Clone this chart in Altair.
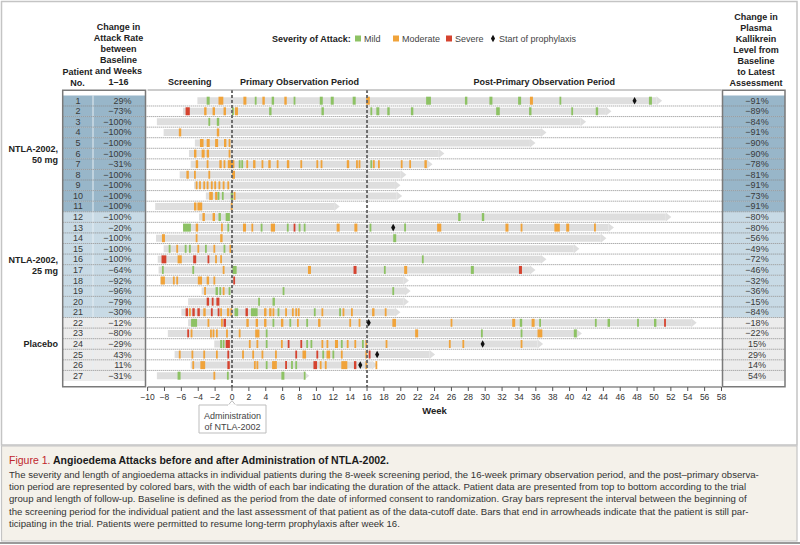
import altair as alt
import pandas as pd

FONT = "Liberation Sans, Arial, sans-serif"

# ---------------- data ----------------
patient_no = list(range(1, 28))
group_names = ["NTLA-2002, 50 mg", "NTLA-2002, 25 mg", "Placebo"]
group_of_patient = ["NTLA-2002, 50 mg"] * 11 + ["NTLA-2002, 25 mg"] * 10 + ["Placebo"] * 6
attack_rate_change = ["29%", "−73%", "−100%", "−100%", "−100%", "−100%", "−31%", "−100%", "−100%",
                      "−100%", "−100%", "−100%", "−20%", "−100%", "−100%", "−100%", "−64%", "−92%",
                      "−96%", "−79%", "−30%", "−12%", "−80%", "−29%", "43%", "11%", "−31%"]
kallikrein_change = ["−91%", "−89%", "−84%", "−91%", "−90%", "−90%", "−78%", "−81%", "−91%", "−73%",
                     "−91%", "−80%", "−80%", "−56%", "−49%", "−72%", "−46%", "−32%", "−36%", "−15%",
                     "−84%", "−18%", "−22%", "15%", "29%", "14%", "54%"]
followup_start = [-4.1, -5.8, -8.9, -8.1, -4.4, -5.1, -4.9, -6.2, -4.5, -3.1, -9.1, -3.9, -5.8, -9.0,
                  -8.1, -8.8, -8.7, -8.5, -3.6, -5.2, -6.0, -5.2, -7.6, -2.1, -6.8, -4.9, -8.9]
followup_end = [50.3, 44.3, 41.3, 36.6, 35.3, 24.5, 23.1, 20.0, 19.3, 19.5, 12.1, 51.4, 44.6, 43.7,
                40.5, 36.6, 35.3, 20.3, 20.5, 20.3, 19.3, 54.4, 40.8, 36.2, 23.4, 16.6, 8.5]
prophylaxis_patient = [1, 13, 22, 24, 25, 26]
prophylaxis_week = [47.7, 19.1, 16.2, 29.7, 17.2, 15.2]

# attacks per patient: (start week, severity, duration in days)
a01 = [(-3.0, "Mild", 2.5), (-1.6, "Moderate", 4), (1.35, "Moderate", 2.5), (2.7, "Mild", 1.5), (3.6, "Moderate", 2),
       (4.7, "Mild", 2), (6.2, "Moderate", 2), (7.3, "Mild", 1.5), (10.4, "Mild", 2.5), (11.7, "Mild", 2.5),
       (14.3, "Mild", 2.5), (15.9, "Moderate", 3), (23.0, "Mild", 4), (27.6, "Mild", 2), (30.5, "Mild", 2.5),
       (33.9, "Mild", 2.5), (35.3, "Moderate", 2.5), (38.8, "Mild", 1.5), (49.4, "Mild", 2.5)]
a02 = [(-5.5, "Severe", 3.5), (-3.3, "Moderate", 2), (-2.3, "Moderate", 2), (-1.0, "Moderate", 2), (0.0, "Mild", 1.5),
       (0.35, "Moderate", 2.5), (4.4, "Mild", 2), (10.6, "Mild", 2), (16.4, "Mild", 1.5), (17.1, "Mild", 2.5),
       (18.4, "Mild", 2), (21.2, "Mild", 2), (31.3, "Mild", 3), (35.2, "Mild", 2), (40.2, "Mild", 1.5), (43.1, "Mild", 2)]
a03 = [(-2.8, "Mild", 1.5), (-1.8, "Mild", 2)]
a04 = [(-6.3, "Moderate", 2), (-1.8, "Moderate", 2)]
a05 = [(-3.8, "Moderate", 3), (-3.0, "Moderate", 2.5), (-2.0, "Moderate", 2.5), (-0.95, "Moderate", 2), (-0.4, "Moderate", 1.5)]
a06 = [(-4.5, "Moderate", 2), (-3.6, "Moderate", 2.5), (-3.0, "Moderate", 2), (-0.4, "Moderate", 1.5)]
a07 = [(-4.3, "Moderate", 2), (-3.0, "Moderate", 1.5), (-1.5, "Moderate", 2), (-1.0, "Moderate", 1.5), (-0.5, "Moderate", 3.5),
       (0.0, "Moderate", 2), (0.8, "Mild", 1.5), (1.1, "Mild", 1.5), (1.7, "Moderate", 1.5), (2.5, "Moderate", 2),
       (3.5, "Moderate", 1.5), (4.3, "Moderate", 2), (5.3, "Moderate", 1.5), (6.5, "Moderate", 2), (8.1, "Moderate", 1.5),
       (10.0, "Moderate", 1.5), (10.5, "Moderate", 1.5), (13.6, "Moderate", 2), (14.7, "Moderate", 1.5), (15.0, "Moderate", 1.5),
       (16.4, "Mild", 1.5), (16.7, "Moderate", 1.5), (17.3, "Moderate", 1.5), (20.0, "Moderate", 1.5), (21.0, "Moderate", 1.5),
       (22.8, "Moderate", 2)]
a08 = [(-5.4, "Moderate", 2), (-4.5, "Moderate", 1.5), (-2.8, "Moderate", 1.5), (0.0, "Moderate", 2.5)]
a09 = [(-4.3, "Moderate", 1.5), (-3.9, "Moderate", 1.5), (-3.4, "Moderate", 1.5), (-3.0, "Moderate", 1.5), (-2.5, "Moderate", 1.5),
       (-2.1, "Moderate", 1.5), (-1.6, "Moderate", 1.5), (-1.1, "Moderate", 1.5), (-0.55, "Moderate", 1.5)]
a10 = [(-2.7, "Moderate", 3), (-2.0, "Moderate", 2), (-1.7, "Mild", 1.5), (-1.2, "Mild", 1.5), (-0.15, "Mild", 2), (0.2, "Moderate", 1.5)]
a11 = [(-4.5, "Moderate", 2), (-4.1, "Moderate", 4), (-0.15, "Moderate", 1.5)]
a12 = [(-3.5, "Moderate", 2), (-2.3, "Moderate", 2), (-1.6, "Mild", 2), (-0.75, "Mild", 3.5), (26.8, "Mild", 2), (29.6, "Mild", 2)]
a13 = [(-5.8, "Mild", 6.5), (-4.3, "Moderate", 2), (-1.3, "Moderate", 1.5), (-0.55, "Mild", 1.5), (1.3, "Moderate", 2.5),
       (2.3, "Moderate", 1.5), (3.4, "Mild", 1.5), (4.6, "Moderate", 3.5), (6.5, "Mild", 1.5), (7.3, "Severe", 1.5),
       (7.9, "Mild", 1.5), (8.5, "Mild", 1.5), (12.4, "Moderate", 2.5), (14.5, "Moderate", 2.5), (16.3, "Mild", 1.5),
       (20.4, "Mild", 1.5), (24.3, "Moderate", 3.5), (32.4, "Moderate", 2.5), (34.2, "Moderate", 1.5), (38.2, "Moderate", 4.5),
       (39.6, "Moderate", 2.5), (42.9, "Moderate", 1.5)]
a14 = [(-8.3, "Moderate", 2.5), (-4.3, "Moderate", 1.5), (-1.4, "Moderate", 2), (19.1, "Mild", 2.5)]
a15 = [(-7.5, "Mild", 1.5), (-6.6, "Moderate", 1.5), (-5.6, "Mild", 1.5), (-5.1, "Mild", 1.5), (-4.1, "Moderate", 1.5),
       (-3.2, "Mild", 1.5), (-2.2, "Moderate", 1.5), (-1.0, "Mild", 1.5), (-0.3, "Moderate", 1.5)]
a16 = [(-8.35, "Severe", 4), (-6.45, "Moderate", 3.5), (-4.6, "Severe", 2.5), (-2.9, "Severe", 1.5), (-2.0, "Moderate", 1.5),
       (-1.4, "Moderate", 1.5), (22.5, "Mild", 1.5)]
a17 = [(-8.3, "Mild", 1.5), (-4.7, "Mild", 1.5), (-1.1, "Moderate", 1.5), (0.05, "Mild", 3.5), (9.0, "Moderate", 2.5),
       (14.4, "Severe", 2.5), (18.0, "Mild", 1.5), (20.4, "Moderate", 2.5), (28.3, "Mild", 2.5), (34.0, "Severe", 2.5)]
a18 = [(-8.45, "Moderate", 3.5), (-7.0, "Moderate", 1.5), (-6.6, "Moderate", 1.5), (-4.05, "Moderate", 3.5), (-3.0, "Moderate", 2),
       (-2.2, "Moderate", 1.5), (0.15, "Severe", 1.5)]
a19 = [(-3.3, "Moderate", 1.5), (-1.95, "Mild", 2), (-1.5, "Mild", 1.5), (-1.1, "Moderate", 1.5), (-0.4, "Mild", 1.5),
       (6.0, "Mild", 1.5), (19.0, "Mild", 1.5)]
a20 = [(-3.0, "Severe", 2), (-2.4, "Severe", 1.5), (-1.85, "Severe", 2.5), (3.1, "Mild", 1.5), (4.8, "Mild", 2)]
a21 = [(-5.5, "Severe", 2), (-5.1, "Moderate", 1.5), (-4.7, "Severe", 2), (-4.1, "Severe", 2), (-3.4, "Moderate", 2),
       (-2.5, "Severe", 1.5), (-1.7, "Severe", 1.5), (-1.4, "Moderate", 1.5), (-0.6, "Moderate", 2), (-0.2, "Moderate", 1.5),
       (0.3, "Mild", 3), (1.6, "Severe", 2), (2.25, "Mild", 5.5), (3.8, "Moderate", 2), (4.4, "Moderate", 2),
       (4.8, "Moderate", 1.5), (5.4, "Mild", 1.5), (6.3, "Moderate", 1.5), (7.1, "Moderate", 1.5), (7.5, "Moderate", 1.5),
       (7.8, "Moderate", 1.5), (9.7, "Mild", 1.5), (10.6, "Moderate", 1.5), (12.7, "Mild", 1.5), (13.1, "Moderate", 1.5),
       (14.1, "Moderate", 1.5), (16.6, "Moderate", 2), (18.1, "Moderate", 1.5)]
a22 = [(-4.85, "Mild", 5), (-2.9, "Moderate", 1.5), (-1.3, "Moderate", 1.5), (-1.0, "Severe", 2), (1.7, "Moderate", 2),
       (2.8, "Moderate", 2), (3.8, "Moderate", 2), (4.8, "Mild", 1.5), (5.8, "Moderate", 2), (6.8, "Mild", 1.5),
       (7.7, "Moderate", 1.5), (8.8, "Mild", 1.5), (10.2, "Moderate", 2), (13.9, "Moderate", 1.5), (15.0, "Moderate", 1.5),
       (19.0, "Moderate", 3), (25.9, "Moderate", 1.5), (33.2, "Moderate", 2.5), (34.1, "Mild", 2), (35.5, "Moderate", 2.5),
       (36.4, "Mild", 1.5), (43.0, "Mild", 1.5), (44.5, "Mild", 2), (48.0, "Mild", 1.5), (50.0, "Mild", 2), (51.2, "Severe", 1.5)]
a23 = [(-5.3, "Severe", 1.5), (-4.9, "Moderate", 1.5), (-2.6, "Moderate", 1.5), (-2.3, "Moderate", 1.5), (-1.9, "Moderate", 1.5),
       (-0.7, "Moderate", 1.5), (0.8, "Moderate", 1.5), (2.75, "Moderate", 3.5), (4.0, "Mild", 1.5), (21.7, "Moderate", 2.5),
       (29.5, "Mild", 1.5), (34.2, "Mild", 1.5), (36.2, "Moderate", 4), (40.5, "Mild", 2.5)]
a24 = [(-1.4, "Mild", 1.5), (-1.1, "Mild", 1.5), (-0.75, "Severe", 3.5), (2.0, "Moderate", 1.5), (2.9, "Moderate", 1.5),
       (4.0, "Mild", 1.5), (5.8, "Moderate", 1.5), (6.6, "Severe", 1.5), (8.1, "Severe", 1.5), (8.8, "Mild", 1.5),
       (9.3, "Mild", 1.5), (10.6, "Moderate", 1.5), (11.2, "Moderate", 1.5), (12.2, "Moderate", 2.5), (12.9, "Mild", 1.5),
       (13.6, "Moderate", 1.5), (14.5, "Moderate", 1.5), (15.4, "Mild", 1.5), (15.8, "Moderate", 1.5), (18.2, "Moderate", 1.5),
       (25.7, "Moderate", 1.5), (27.3, "Moderate", 1.5), (34.2, "Moderate", 1.5)]
a25 = [(-6.3, "Moderate", 1.5), (-4.8, "Moderate", 1.5), (-3.4, "Moderate", 1.5), (-1.9, "Moderate", 1.5), (-0.55, "Severe", 1.5),
       (1.2, "Moderate", 1.5), (2.4, "Moderate", 1.5), (3.5, "Moderate", 1.5), (5.1, "Moderate", 1.5), (7.5, "Severe", 1.5),
       (8.35, "Moderate", 3), (10.0, "Severe", 1.5), (10.7, "Mild", 1.5), (11.2, "Moderate", 3), (11.9, "Mild", 1.5),
       (12.9, "Moderate", 1.5), (15.8, "Moderate", 1.5), (16.2, "Severe", 1.5)]
a26 = [(-4.7, "Moderate", 1.5), (-3.75, "Moderate", 4), (-0.55, "Severe", 2), (2.6, "Moderate", 1.5), (2.9, "Moderate", 1.5),
       (4.0, "Mild", 1.5), (4.75, "Moderate", 2.5), (5.1, "Moderate", 1.5), (6.3, "Severe", 1.5), (7.0, "Mild", 1.5),
       (7.5, "Mild", 1.5), (9.65, "Severe", 3), (10.4, "Moderate", 1.5), (11.0, "Moderate", 1.5), (12.95, "Moderate", 5),
       (14.45, "Severe", 2), (15.8, "Moderate", 1.5), (17.0, "Moderate", 1.5)]
a27 = [(-6.45, "Mild", 2.5), (-2.2, "Moderate", 1.5), (-0.6, "Mild", 1.5), (5.85, "Mild", 2.5), (8.5, "Mild", 1.5)]
attack_lists = [a01, a02, a03, a04, a05, a06, a07, a08, a09, a10, a11, a12, a13, a14, a15, a16, a17, a18,
                a19, a20, a21, a22, a23, a24, a25, a26, a27]

severity_names = ["Mild", "Moderate", "Severe"]
severity_colors = ["#8dc264", "#f0a33a", "#d5432f"]
group_fills = ["#98b6c9", "#c8dae5", "#ececec"]
week_ticks = list(range(-10, 59, 2))
period_names = ["Screening", "Primary Observation Period", "Post-Primary Observation Period"]
period_start = [-10, 0, 16]
period_end = [0, 16, 58]

caption_lines = [
    "The severity and length of angioedema attacks in individual patients during the 8-week screening period, the 16-week primary observation period, and the post\u2013primary observa-",
    "tion period are represented by colored bars, with the width of each bar indicating the duration of the attack. Patient data are presented from top to bottom according to the trial",
    "group and length of follow-up. Baseline is defined as the period from the date of informed consent to randomization. Gray bars represent the interval between the beginning of",
    "the screening period for the individual patient and the last assessment of that patient as of the data-cutoff date. Bars that end in arrowheads indicate that the patient is still par-",
    "ticipating in the trial. Patients were permitted to resume long-term prophylaxis after week 16.",
]

# ---------------- tables ----------------
pdf = pd.DataFrame({"patient": patient_no, "group": group_of_patient, "rate": attack_rate_change,
                    "kal": kallikrein_change, "start": followup_start, "end": followup_end})
pdf["lo"] = pdf["patient"] - 0.5
pdf["hi"] = pdf["patient"] + 0.5

rows = []
for p, lst in zip(patient_no, attack_lists):
    for wk, sev, days in lst:
        rows.append({"patient": p, "s": wk, "e": wk + days / 7.0, "severity": sev})
adf = pd.DataFrame(rows)
proph = pd.DataFrame({"patient": prophylaxis_patient, "week": prophylaxis_week})
gdf = pd.DataFrame({"group": group_names})
gdf["center"] = [pdf[pdf.group == g].patient.mean() for g in group_names]
gdf["line1"] = ["NTLA-2002,", "NTLA-2002,", "Placebo"]
gdf["line2"] = ["50 mg", "25 mg", ""]
tdf = pd.DataFrame({"tick": week_ticks})
tdf["label"] = [("\u2212" + str(-t)) if t < 0 else str(t) for t in week_ticks]
vdf = pd.DataFrame({"w": [0, 16]})
perdf = pd.DataFrame({"name": period_names, "a": period_start, "b": period_end})
perdf["mid"] = (perdf["a"] + perdf["b"]) / 2.0
spandf = pd.DataFrame({"a": [week_ticks[0]], "b": [week_ticks[-1]], "admin": [0], "weekpos": [24]})
one = pd.DataFrame({"k": [0]})

X = alt.Scale(domain=[-10, 58], range=[147.6, 721.5], nice=False, zero=False)
Y = alt.Scale(domain=[1, 27], range=[95.7, 380.7], nice=False, zero=False)
SEV = alt.Scale(domain=severity_names, range=severity_colors)
GF = alt.Scale(domain=group_names, range=group_fills)

RIGHT_X1, RIGHT_X2, RIGHT_TX = 723, 785, 757


def XE(f):
    return alt.X(f, scale=X, axis=None)


def YE(f):
    return alt.Y(f, scale=Y, axis=None)


def txt(t, x, y, size=9.0, weight="normal", color="#222222", align="center", baseline="middle"):
    return alt.Chart(one).mark_text(text=t, font=FONT, fontSize=size, fontWeight=weight, color=color,
                                    align=align, baseline=baseline).encode(x=alt.value(x), y=alt.value(y))


def box(x1, x2, y1, y2, fill="transparent", stroke="#bdbdbd", sw=1.0):
    return alt.Chart(one).mark_rect(fill=fill, stroke=stroke, strokeWidth=sw).encode(
        x=alt.value(x1), x2=alt.value(x2), y=alt.value(y1), y2=alt.value(y2))


layers = []
# frame + caption background
layers.append(box(1.5, 797, 1.5, 445, fill="white", stroke="#c4c4c4", sw=1.5))
layers.append(box(1.5, 797, 446, 541, fill="#f4f1ea", stroke="#c4c4c4", sw=1.2))
layers.append(alt.Chart(one).mark_rule(color="#9a9a9a", strokeWidth=2).encode(
    x=alt.value(0), x2=alt.value(800), y=alt.value(543)))

# table cells
for x1, x2 in [(62.7, 145), (RIGHT_X1, RIGHT_X2)]:
    layers.append(alt.Chart(pdf).mark_rect().encode(
        x=alt.value(x1), x2=alt.value(x2),
        y=YE("lo:Q"), y2="hi:Q",
        fill=alt.Fill("group:N", scale=GF, legend=None)))
# column divider in left table
layers.append(alt.Chart(pdf).mark_rule(color="#e6eef3", strokeWidth=1).encode(
    x=alt.value(93), y=YE("lo:Q"), y2="hi:Q"))
# dotted row separators
layers.append(alt.Chart(pdf[pdf.patient < 27]).mark_rule(color="#8a8a8a", strokeWidth=1, strokeDash=[1, 1]).encode(
    y=YE("hi:Q"), x=alt.value(62.7), x2=alt.value(RIGHT_X2)))

# follow-up gray bars + arrowheads
layers.append(alt.Chart(pdf).mark_bar(color="#dedede", size=7, orient="horizontal").encode(
    x=XE("start:Q"), x2="end:Q", y=YE("patient:Q")))
layers.append(alt.Chart(pdf).mark_point(shape="M0,-1L1.25,0L0,1Z", size=80, filled=True, color="#dedede", opacity=1).encode(
    x=XE("end:Q"), y=YE("patient:Q")))
# attacks
layers.append(alt.Chart(adf).mark_bar(size=8, orient="horizontal").encode(
    x=XE("s:Q"), x2="e:Q", y=YE("patient:Q"),
    color=alt.Color("severity:N", scale=SEV, legend=None)))
# dashed week 0 / 16 lines
layers.append(alt.Chart(vdf).mark_rule(color="#6e6e6e", strokeWidth=2, strokeDash=[3, 2]).encode(
    x=XE("w:Q"), y=alt.value(90), y2=alt.value(387)))
# prophylaxis markers
DIAMOND = "M0,-1.2L0.65,0L0,1.2L-0.65,0Z"
layers.append(alt.Chart(proph).mark_point(shape=DIAMOND, size=40, filled=True, color="#111111", opacity=1).encode(
    x=XE("week:Q"), y=YE("patient:Q")))

# borders
layers.append(alt.Chart(spandf).mark_rule(color="#9a9a9a", strokeWidth=1).encode(
    x=XE("a:Q"), x2="b:Q", y=alt.value(90)))
layers.append(box(62.7, 145.5, 90.2, 386.7, stroke="#7a7a7a", sw=1.5))
layers.append(box(722.5, RIGHT_X2, 90.2, 386.7, stroke="#7a7a7a", sw=1.5))

# x axis
layers.append(alt.Chart(spandf).mark_rule(color="#555555", strokeWidth=1.2).encode(
    x=XE("a:Q"), x2="b:Q", y=alt.value(387)))
layers.append(alt.Chart(tdf).mark_rule(color="#555555", strokeWidth=1).encode(
    x=XE("tick:Q"), y=alt.value(387), y2=alt.value(391)))
layers.append(alt.Chart(tdf).mark_text(font=FONT, fontSize=8.5, color="#333333", baseline="middle").encode(
    x=XE("tick:Q"), y=alt.value(397), text="label:N"))
layers.append(alt.Chart(spandf).mark_text(text="Week", font=FONT, fontSize=9.5, fontWeight="bold", color="#222222").encode(
    x=XE("weekpos:Q"), y=alt.value(411)))

# administration callout
layers.append(box(199, 266, 405, 433, fill="white", stroke="#bdbdbd", sw=1))
layers.append(alt.Chart(spandf).mark_point(shape="M-1,0.6L0,-0.6L1,0.6Z", size=60, filled=True, fill="white",
                                           stroke="#bdbdbd", strokeWidth=1, opacity=1).encode(
    x=XE("admin:Q"), y=alt.value(403)))
layers.append(alt.Chart(one).mark_rule(color="white", strokeWidth=2).encode(
    x=alt.value(228), x2=alt.value(236.5), y=alt.value(405.5)))
layers.append(txt("Administration", 232.5, 416, size=9, color="#444444"))
layers.append(txt("of NTLA-2002", 232.5, 427, size=9, color="#444444"))

# table texts
layers.append(alt.Chart(pdf).mark_text(font=FONT, fontSize=9, color="#3a3a3a").encode(
    x=alt.value(78), y=YE("patient:Q"), text="patient:N"))
layers.append(alt.Chart(pdf).mark_text(font=FONT, fontSize=9, color="#3a3a3a", align="right").encode(
    x=alt.value(131.5), y=YE("patient:Q"), text="rate:N"))
layers.append(alt.Chart(pdf).mark_text(font=FONT, fontSize=9, color="#3a3a3a").encode(
    x=alt.value(RIGHT_TX), y=YE("patient:Q"), text="kal:N"))

# group labels
layers.append(alt.Chart(gdf).mark_text(font=FONT, fontSize=9, fontWeight="bold", color="#222222", align="right",
                                       dy=-5).encode(
    x=alt.value(58), y=YE("center:Q"), text="line1:N"))
layers.append(alt.Chart(gdf).mark_text(font=FONT, fontSize=9, fontWeight="bold", color="#222222", align="right",
                                       dy=6).encode(
    x=alt.value(58), y=YE("center:Q"), text="line2:N"))

# headers
for i, t in enumerate(["Patient", "No."]):
    layers.append(txt(t, 77.5, 71.7 + 10.8 * i, weight="bold"))
for i, t in enumerate(["Change in", "Attack Rate", "between", "Baseline", "and Weeks", "1\u201316"]):
    layers.append(txt(t, 118.5, 27.3 + 10.9 * i, weight="bold"))
for i, t in enumerate(["Change in", "Plasma", "Kallikrein", "Level from", "Baseline", "to Latest", "Assessment"]):
    layers.append(txt(t, RIGHT_TX - 1, 16.5 + 11.1 * i, weight="bold"))
layers.append(alt.Chart(perdf).mark_text(font=FONT, fontSize=9, fontWeight="bold", color="#222222").encode(
    x=XE("mid:Q"), y=alt.value(82), text="name:N"))

# legend
layers.append(txt("Severity of Attack:", 272, 38.5, weight="bold", align="left"))
for sx, tx, name, col in [(358, 364, "Mild", severity_colors[0]), (396, 402, "Moderate", severity_colors[1]),
                          (449, 455, "Severe", severity_colors[2])]:
    layers.append(alt.Chart(one).mark_point(shape="square", size=36, filled=True, color=col, opacity=1).encode(
        x=alt.value(sx), y=alt.value(38.5)))
    layers.append(txt(name, tx, 38.5, align="left", color="#444444"))
layers.append(alt.Chart(one).mark_point(shape=DIAMOND, size=40, filled=True, color="#111111", opacity=1).encode(
    x=alt.value(493), y=alt.value(38.5)))
layers.append(txt("Start of prophylaxis", 499, 38.5, align="left", color="#444444"))

# caption
layers.append(txt("Figure 1.", 9, 461, size=10.5, color="#c0272d", align="left"))
layers.append(txt("Angioedema Attacks before and after Administration of NTLA-2002.", 53, 461, size=10.5,
                  weight="bold", color="#1a1a1a", align="left"))
for i, t in enumerate(caption_lines):
    layers.append(txt(t, 9, 475 + 12.2 * i, size=9.6, color="#333333", align="left"))

chart = alt.layer(*layers).properties(
    width=800, height=545, padding=0,
    autosize=alt.AutoSizeParams(type="none"), background="white"
).configure_view(stroke=None)

chart.save("out.html", embed_options={"renderer": "svg", "actions": False})
